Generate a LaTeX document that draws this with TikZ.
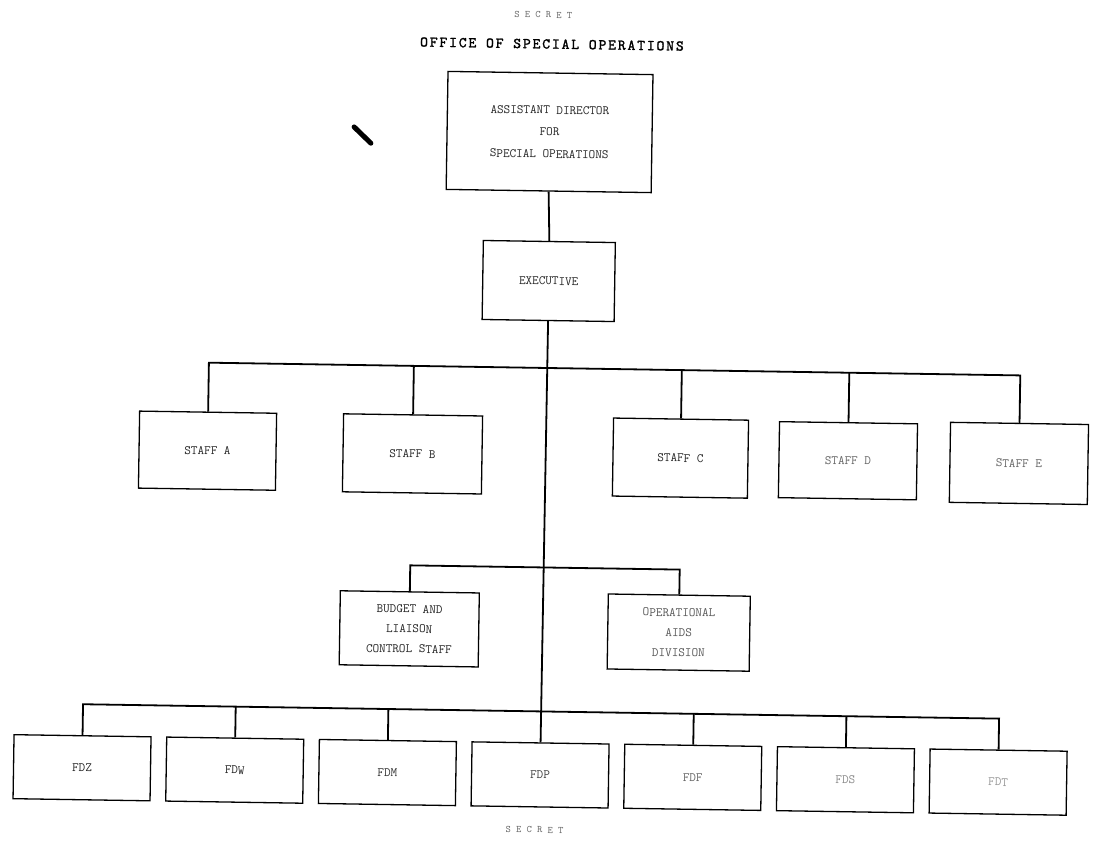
\documentclass[tikz,border=0pt]{standalone}
\usepackage{fontspec}
\newfontfamily\titlefont{lmmono10-regular.otf}[FakeBold=1.5,LetterSpace=12]
\newcommand\bxfont{\ttfamily\fontsize{12.8}{22}\selectfont}
\newcommand\smbxfont{\ttfamily\fontsize{12.8}{20}\selectfont}
\tikzset{
  box/.style={draw=black, line width=1.3pt, rectangle, inner sep=0pt, align=center, font=\bxfont, text=black!85},
  smallbox/.style={box, font=\smbxfont},
  conn/.style={line width=1.8pt},
  secretmark/.style={font=\ttfamily\fontsize{10}{12}\selectfont, text=black!60},
}
\begin{document}
\begin{tikzpicture}[x=1pt,y=-1pt]
\fill[white] (0,0) rectangle (1094,846);
\useasboundingbox (0,0) rectangle (1094,846);
\begin{scope}[rotate around={-0.9:(547,423)}, transform shape]
  \node[secretmark] (sec1) at (537,15) {S E C R E T};
  \node[font=\titlefont\fontsize{15}{18}\selectfont] (title) at (546,44) {OFFICE OF SPECIAL OPERATIONS};
  \node[secretmark] (sec2) at (541,830) {S E C R E T};

  \draw[line width=5pt, line cap=round] (349.5,130) -- (366.5,146);

  \node[box, minimum width=205, minimum height=118] (ad) at (545,132) {ASSISTANT DIRECTOR\\FOR\\SPECIAL OPERATIONS};
  \node[box, minimum width=132, minimum height=79] (ex) at (546.5,281) {EXECUTIVE};

  \node[box, minimum width=137, minimum height=77] (sa) at (208,456) {STAFF A};
  \node[box, minimum width=139, minimum height=78] (sb) at (413,456) {STAFF B};
  \node[box, minimum width=135, minimum height=78] (sc) at (681,456) {STAFF C};
  \node[box, minimum width=138, minimum height=76, text=black!60] (sd) at (848.5,456) {STAFF D};
  \node[box, minimum width=138, minimum height=80, text=black!60] (se) at (1019.5,456) {STAFF E};

  \node[smallbox, minimum width=139, minimum height=74] (bud) at (412.5,631) {BUDGET AND\\LIAISON\\CONTROL STAFF};
  \node[smallbox, minimum width=142, minimum height=75, text=black!65] (ops) at (682,630.5) {OPERATIONAL\\AIDS\\DIVISION};

  \foreach \i/\t/\c in {0/FDZ/85,1/FDW/85,2/FDM/80,3/FDP/75,4/FDF/60,5/FDS/45,6/FDT/40}
    \node[box, minimum width=137, minimum height=64, text=black!\c] (fd\i) at ({87.5+152.7*\i},775) {\t};

  \coordinate (bus1) at (0,368);
  \coordinate (bus2) at (0,567.5);
  \coordinate (bus3) at (0,711.5);

  \draw[conn] (ad.south) -- (ex.north);
  \draw[conn] (ex.south) -- (fd3.north);

  \draw[conn] (sa.north) |- (se.north |- bus1) -- (se.north);
  \foreach \n in {sb,sc,sd}
    \draw[conn] (\n.north) -- (\n.north |- bus1);

  \draw[conn] (bud.north) |- (ops.north |- bus2) -- (ops.north);

  \draw[conn] (fd0.north) |- (fd6.north |- bus3) -- (fd6.north);
  \foreach \n in {fd1,fd2,fd4,fd5}
    \draw[conn] (\n.north) -- (\n.north |- bus3);
\end{scope}
\end{tikzpicture}
\end{document}
